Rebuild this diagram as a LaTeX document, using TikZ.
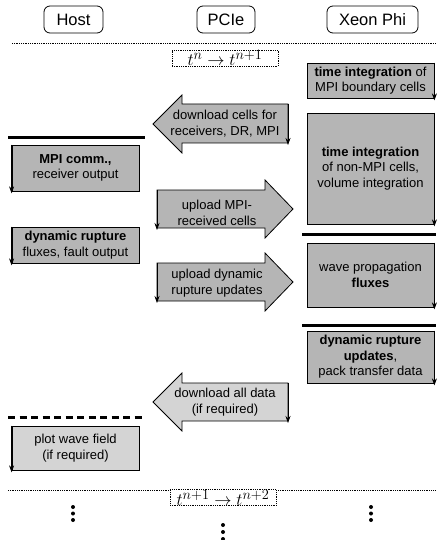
\documentclass[tikz,border=0pt]{standalone}
\usepackage{fontspec}
\setmainfont{Liberation Sans}
\usetikzlibrary{arrows.meta}
\definecolor{darkfill}{gray}{0.71}
\definecolor{lightfill}{gray}{0.83}
\begin{document}
\begin{tikzpicture}[x=1pt,y=-1pt,
  hdr/.style={draw, line width=0.8pt, rounded corners=6pt, minimum height=27pt, inner sep=0pt, font=\fontsize{16.5}{19}\selectfont},
  box/.style={draw, line width=0.8pt, align=center, inner sep=0pt, minimum width=127pt, font=\fontsize{13}{15.5}\selectfont},
  txt/.style={align=center, inner sep=0pt, font=\fontsize{13}{15.5}\selectfont},
  dwn/.style={line width=0.8pt, -{Stealth[length=7pt,width=5pt]}},
  sep/.style={line width=3pt},
  tl/.style={densely dotted, line width=0.8pt},
  tbox/.style={draw, densely dotted, line width=0.8pt, fill=white, inner sep=0pt, minimum width=106pt, minimum height=16pt, font=\fontsize{19}{19}\selectfont},
  arr/.style={draw, line width=0.8pt, line join=miter}
]
\useasboundingbox (0,0) rectangle (436,540);

% headers
\node[hdr, minimum width=59pt] (host) at (73.5,19.5) {Host};
\node[hdr, minimum width=58pt] (pcie) at (226,19.5) {PCIe};
\node[hdr, minimum width=91pt] (xeon) at (372.5,19.5) {Xeon Phi};

% top time step
\draw[tl] (12,43) -- (436,43);
\node[tbox] (t1) at (225,58) {$t^n \rightarrow t^{n+1}$};

% Xeon Phi column
\node[box, fill=darkfill, minimum height=35pt] (ti1) at (370.5,80.5)
  {\textbf{time integration} of\\MPI boundary cells};
\draw[dwn] (ti1.north east) -- ([yshift=-2pt]ti1.south east);

\node[box, fill=darkfill, minimum height=111pt] (ti2) at (370.5,168.5)
  {\textbf{time integration}\\of non-MPI cells,\\volume integration};
\draw[dwn] (ti2.north east) -- ([yshift=-2pt]ti2.south east);

\draw[sep] (302,234) -- (436,234);

\node[box, fill=darkfill, minimum height=64pt] (wave) at (370.5,275)
  {wave propagation\\\textbf{fluxes}};
\draw[dwn] (wave.north east) -- ([yshift=-2pt]wave.south east);

\draw[sep] (302,325) -- (436,325);

\node[box, fill=darkfill, minimum height=52pt] (drx) at (370.5,357)
  {\textbf{dynamic rupture}\\\textbf{updates},\\pack transfer data};
\draw[dwn] (drx.north east) -- ([yshift=-2pt]drx.south east);

% PCIe column
\path[arr, fill=darkfill] (153,124) -- (182,95) -- (182,104) -- (288,104) -- (288,143) -- (182,143) -- (182,153) -- cycle;
\node[txt] (dl1) at (225,123.5) {download cells for\\receivers, DR, MPI};
\coordinate (dl1top) at (288,104);
\coordinate (dl1bot) at (288,145);
\draw[dwn] (dl1top) -- (dl1bot);

\path[arr, fill=darkfill] (157,190) -- (265,190) -- (265,180) -- (293,209) -- (265,238) -- (265,228) -- (157,228) -- cycle;
\node[txt] (ul1) at (217,213) {upload MPI-\\received cells};
\coordinate (ul1top) at (157,190);
\coordinate (ul1bot) at (157,230);
\draw[dwn] (ul1top) -- (ul1bot);

\path[arr, fill=darkfill] (157,263) -- (265,263) -- (265,253) -- (293,282) -- (265,311) -- (265,301) -- (157,301) -- cycle;
\node[txt] (ul2) at (217,283) {upload dynamic\\rupture updates};
\coordinate (ul2top) at (157,263);
\coordinate (ul2bot) at (157,303);
\draw[dwn] (ul2top) -- (ul2bot);

\path[arr, fill=lightfill] (153,402) -- (182,373) -- (182,383) -- (288,383) -- (288,421) -- (182,421) -- (182,431) -- cycle;
\node[txt] (dl2) at (225,402) {download all data\\(if required)};
\coordinate (dl2top) at (288,383);
\coordinate (dl2bot) at (288,423);
\draw[dwn] (dl2top) -- (dl2bot);

% Host column
\draw[sep] (8,138) -- (145,138);

\node[box, fill=darkfill, minimum height=46pt] (mpi) at (75.5,168)
  {\textbf{MPI comm.,}\\receiver output};
\draw[dwn] (mpi.north west) -- ([yshift=-2pt]mpi.south west);

\node[box, fill=darkfill, minimum height=36pt] (drh) at (75.5,245)
  {\textbf{dynamic rupture}\\fluxes, fault output};
\draw[dwn] (drh.north west) -- ([yshift=-2pt]drh.south west);

\draw[sep, dash pattern=on 7pt off 4.5pt] (8,417) -- (142,417);

\node[box, fill=lightfill, minimum height=44pt] (plot) at (75.5,448)
  {plot wave field\\(if required)};
\draw[dwn] (plot.north west) -- ([yshift=-2pt]plot.south west);

% bottom time step
\draw[tl] (8,490) -- (436,490);
\node[tbox] (t2) at (223,497.5) {$t^{n+1} \rightarrow t^{n+2}$};

% continuation dots
\foreach \x/\y in {73/507, 73/513.5, 73/520, 371/507, 371/513.5, 371/520, 223/525, 223/532, 223/539}
  \fill (\x,\y) circle (2pt);
\end{tikzpicture}
\end{document}
